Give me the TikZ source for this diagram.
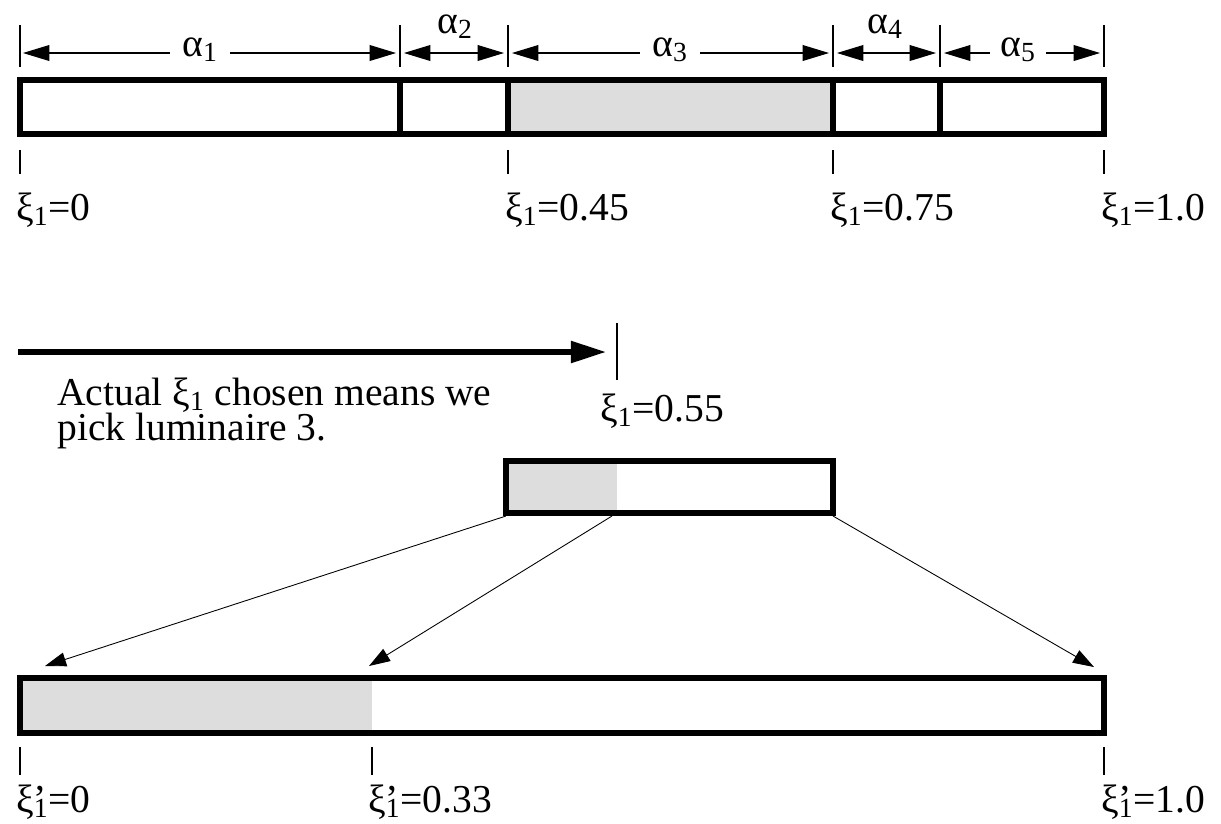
\documentclass[tikz,border=0pt]{standalone}
\usepackage{fontspec}
\setmainfont{Liberation Serif}
\usetikzlibrary{arrows.meta}
\definecolor{slotgray}{RGB}{221,221,221}
\tikzset{
  barline/.style={line width=3.2pt},
  tickline/.style={line width=0.6pt},
  dimarrow/.style={line width=0.6pt,{Triangle[length=15pt,width=9pt]}-{Triangle[length=15pt,width=9pt]}},
  maplink/.style={line width=0.5pt,-{Triangle[length=12pt,width=8pt]}},
  lab/.style={font=\fontsize{22.5}{22}\selectfont,inner sep=0pt},
}
\newcommand{\xione}{ξ\textsubscript{1}}
\newcommand{\xipr}{ξ\rlap{’}\textsubscript{1}}
\begin{document}
\begin{tikzpicture}[x=0.02cm,y=-0.02cm]
        \useasboundingbox (0,0) rectangle (1221,823);

        % Top: luminaire intervals
        \fill[slotgray] (508,80) rectangle (833,134);
        \draw[barline] (20,80) rectangle (1104,134);
        \foreach \xd in {400,508,833,940}
          \draw[barline] (\xd,80) -- (\xd,134);

        % ticks above and dimension arrows
        \foreach \xd in {20,400,508,833,940,1104}
          \draw[tickline] (\xd,25) -- (\xd,67);
        \draw[dimarrow] (23,53) -- (396,53);
        \draw[dimarrow] (404,53) -- (504,53);
        \draw[dimarrow] (512,53) -- (829,53);
        \draw[dimarrow] (837,53) -- (936,53);
        \draw[dimarrow] (944,53) -- (1100,53);
        \node[lab,fill=white,inner xsep=7pt,anchor=base] (a1) at (200,56) {α\textsubscript{1}};
        \node[lab,anchor=base] (a2) at (455,33) {α\textsubscript{2}};
        \node[lab,fill=white,inner xsep=7pt,anchor=base] (a3) at (670,56) {α\textsubscript{3}};
        \node[lab,anchor=base] (a4) at (885,33) {α\textsubscript{4}};
        \node[lab,fill=white,inner xsep=6pt,anchor=base] (a5) at (1018,56) {α\textsubscript{5}};

        % ticks below and values
        \foreach \xd in {20,508,833,1104}
          \draw[tickline] (\xd,150) -- (\xd,174);
        \node[lab,anchor=base west] (v0) at (16,220) {\xione=0};
        \node[lab,anchor=base west] (v45) at (505,220) {\xione=0.45};
        \node[lab,anchor=base west] (v75) at (830,220) {\xione=0.75};
        \node[lab,anchor=base west] (v10) at (1101,220) {\xione=1.0};

        % Middle: the chosen value
        \draw[line width=3pt,-{Triangle[length=20pt,width=12pt]}] (18,352) -- (606,352);
        \draw[tickline] (617,323) -- (617,380);
        \node[lab,anchor=base west] (v55) at (600,421) {\xione=0.55};
        \node[lab,anchor=base west,align=left,font=\fontsize{22.5}{19.8}\selectfont] (note) at (57,440)
          {Actual \xione{} chosen means we\\pick luminaire 3.};

        % small bar of luminaire 3
        \fill[slotgray] (506,461) rectangle (617,513);
        \draw[barline] (506,461) rectangle (833,513);
        \coordinate (sl) at (506,516);
        \coordinate (sm) at (612,516);
        \coordinate (sr) at (833,516);

        % Bottom: rescaled interval
        \fill[slotgray] (20,678) rectangle (372,733);
        \draw[barline] (20,678) rectangle (1104,733);
        \coordinate (bl) at (45,666);
        \coordinate (bm) at (369,666);
        \coordinate (br) at (1094,667);
        \draw[maplink] (sl) -- (bl);
        \draw[maplink] (sm) -- (bm);
        \draw[maplink] (sr) -- (br);

        \foreach \xd in {20,372,1104}
          \draw[tickline] (\xd,747) -- (\xd,775);
        \node[lab,anchor=base west] (w0) at (16,812) {\xipr=0};
        \node[lab,anchor=base west] (w33) at (368,812) {\xipr=0.33};
        \node[lab,anchor=base west] (w10) at (1101,812) {\xipr=1.0};
\end{tikzpicture}
\end{document}
